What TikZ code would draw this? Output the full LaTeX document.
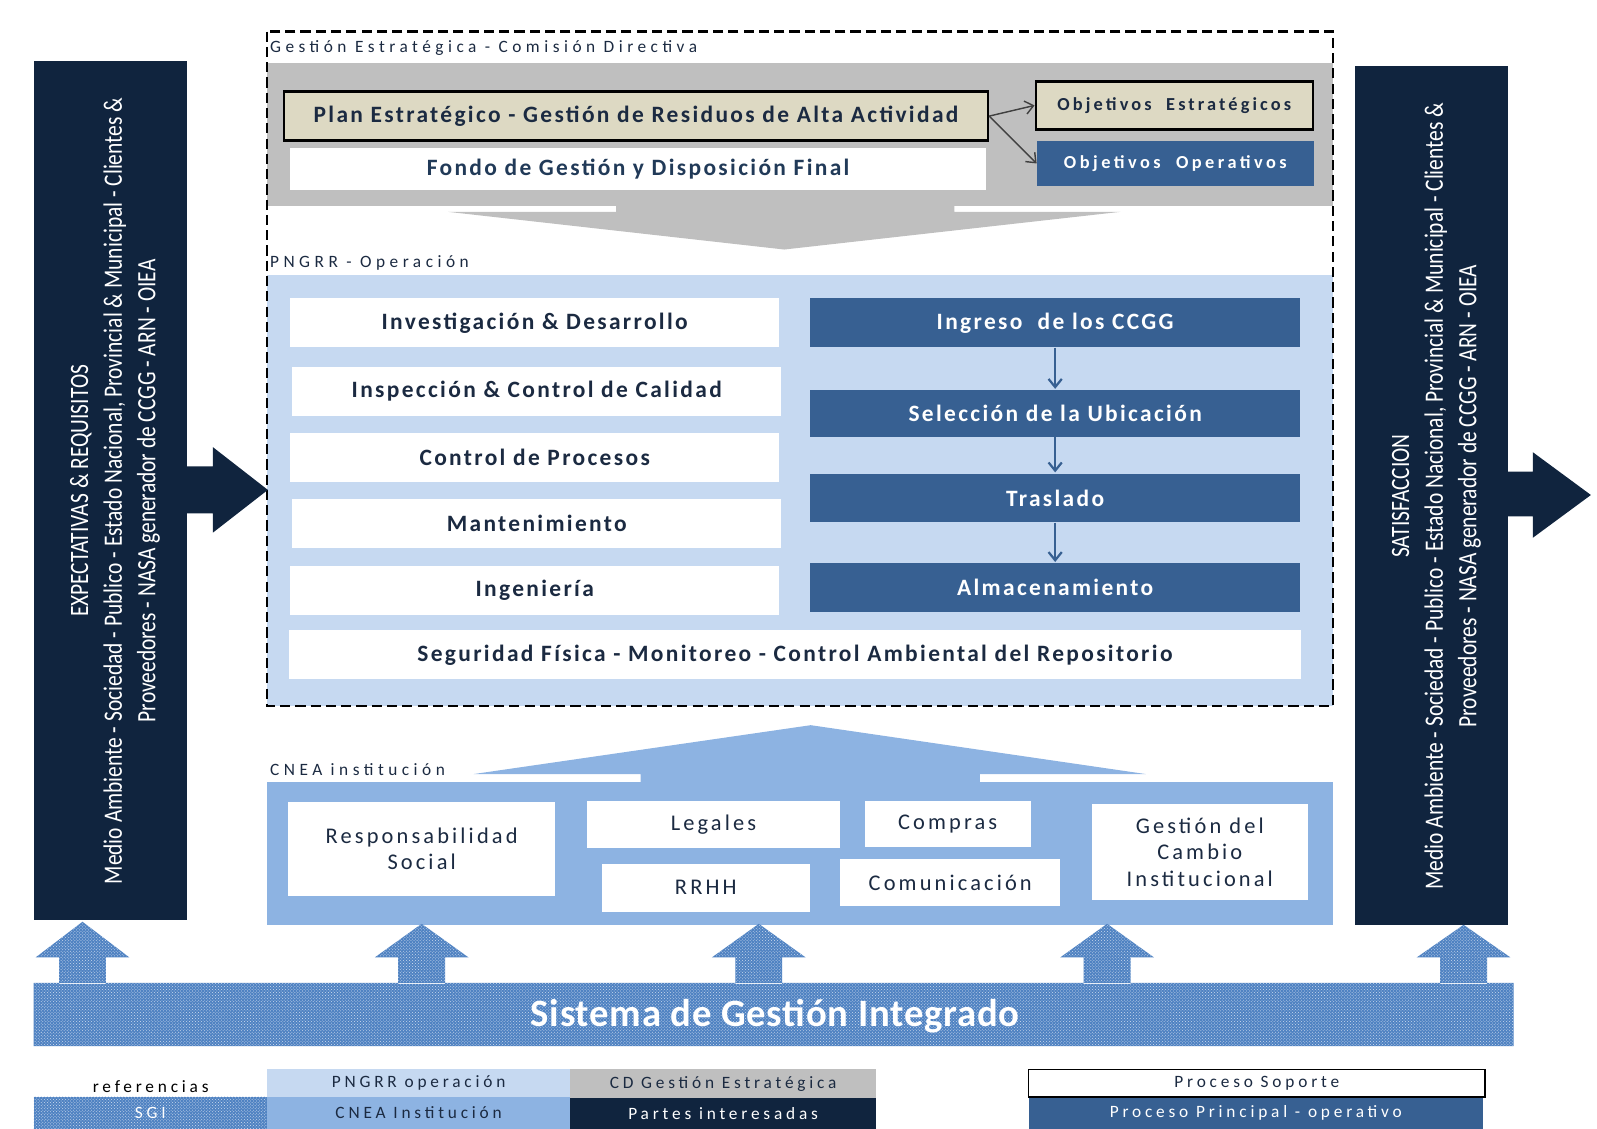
\documentclass[tikz,border=0pt]{standalone}
\usepackage{fontspec}
\setmainfont{Carlito}
\usetikzlibrary{patterns,arrows.meta}

\definecolor{navy}{HTML}{10243E}
\definecolor{grayband}{HTML}{BFBFBF}
\definecolor{beige}{HTML}{DDD9C3}
\definecolor{procblue}{HTML}{376092}
\definecolor{pngrrblue}{HTML}{C6D9F1}
\definecolor{cneablue}{HTML}{8DB3E2}
\definecolor{sgiblue}{HTML}{4F82C2}
\definecolor{boxtext}{HTML}{1B2A41}

\begin{document}
\begin{tikzpicture}[x=1pt, y=-1pt, inner sep=0pt, >={Straight Barb[length=8pt, width=13pt]},
                        whitebox/.style={rectangle, fill=white, text=boxtext, font=\bfseries\fontsize{23}{27}\selectfont\addfontfeature{LetterSpace=10}},
                        procbox/.style={rectangle, fill=procblue, text=white, font=\bfseries\fontsize{23}{27}\selectfont\addfontfeature{LetterSpace=10}},
                        beigebox/.style={rectangle, fill=beige, draw=black, line width=2.5pt, text=boxtext},
                        cneabox/.style={rectangle, fill=white, text=boxtext, align=center, font=\fontsize{22}{26}\selectfont\addfontfeature{LetterSpace=14}},
                        seclabel/.style={anchor=west, text=boxtext, font=\fontsize{17}{20}\selectfont\addfontfeature{LetterSpace=26}},
                        navybar/.style={rectangle, fill=navy},
                        bartext/.style={rotate=90, text=white, font=\fontsize{26}{33}\selectfont},
                        legbox/.style={rectangle, text=boxtext, font=\fontsize{17}{20}\selectfont\addfontfeature{LetterSpace=22}},
                        sgi/.style={fill=sgiblue, postaction={pattern=crosshatch dots, pattern color=white!70!sgiblue}},
                        dashborder/.style={draw=black, line width=2.2pt, dash pattern=on 10pt off 5pt},
                        objarrow/.style={->, draw=black!75, line width=1.4pt},
                        procarrow/.style={->, draw=procblue, line width=2.2pt, shorten >=1pt}]

                        \useasboundingbox (0,0) rectangle (1568,1108);

                        % Gestion estrategica area
                        \fill[grayband] (262,62) rectangle (1309,202);
                        \fill[grayband] (605,202) -- (605,208) -- (440,208) -- (770,245) -- (1100,208) -- (937,208) -- (937,202) -- cycle;
                        % PNGRR area
                        \fill[pngrrblue] (262,270) rectangle (1309,693);
                        \draw[dashborder] (262,31) rectangle (1309,693);
                        % CNEA area
                        \fill[cneablue] (262,768) rectangle (1309,908);
                        \fill[cneablue] (629,769) -- (629,760) -- (465,760) -- (796,712) -- (1125,760) -- (962,760) -- (962,769) -- cycle;

                        % Section labels
                        \node[seclabel] (lblgest) at (265,47) {Gestión Estratégica - Comisión Directiva};
                        \node[seclabel] (lblpngrr) at (265,258) {PNGRR - Operación};
                        \node[seclabel] (lblcnea) at (265,756) {CNEA institución};

                        % Strategic plan and objectives
                        \node[beigebox, minimum width=691pt, minimum height=48pt, font=\bfseries\fontsize{23}{27}\selectfont\addfontfeature{LetterSpace=10}] (plan) at (624.5,114) {Plan Estratégico - Gestión de Residuos de Alta Actividad};
                        \node[whitebox, minimum width=683pt, minimum height=42pt, text=procblue!60!black] (fondo) at (626.5,166) {Fondo de Gestión y Disposición Final};
                        \node[beigebox, minimum width=272pt, minimum height=47pt, font=\bfseries\fontsize{18}{21}\selectfont\addfontfeature{LetterSpace=17}] (objest) at (1153,103.5) {Objetivos\ \ Estratégicos};
                        \node[procbox, minimum width=272pt, minimum height=45pt, font=\bfseries\fontsize{18}{21}\selectfont\addfontfeature{LetterSpace=19}] (objop) at (1154,160.5) {Objetivos\ \ Operativos};

                        % Support processes
                        \node[whitebox, minimum width=480pt, minimum height=48pt] (invdes) at (525,317) {Investigación \& Desarrollo};
                        \node[whitebox, minimum width=480pt, minimum height=48pt] (inspec) at (527,384) {Inspección \& Control de Calidad};
                        \node[whitebox, minimum width=480pt, minimum height=48pt] (ctrlproc) at (525,449) {Control de Procesos};
                        \node[whitebox, minimum width=480pt, minimum height=48pt] (mant) at (527,514) {Mantenimiento};
                        \node[whitebox, minimum width=480pt, minimum height=48pt] (ing) at (525,580) {Ingeniería};
                        \node[whitebox, minimum width=993pt, minimum height=48pt] (segur) at (780.5,643) {Seguridad Física - Monitoreo - Control Ambiental del Repositorio};

                        % Main processes
                        \node[procbox, minimum width=481pt, minimum height=48pt] (ingreso) at (1036,317) {Ingreso\ \ de los CCGG};
                        \node[procbox, minimum width=481pt, minimum height=46pt] (selec) at (1036,406) {Selección de la Ubicación};
                        \node[procbox, minimum width=481pt, minimum height=48pt] (trasl) at (1036,489) {Traslado};
                        \node[procbox, minimum width=481pt, minimum height=48pt] (almac) at (1036,577) {Almacenamiento};

                        % CNEA institution
                        \node[cneabox, minimum width=262pt, minimum height=93pt] (respsoc) at (414,833.5) {Responsabilidad\\Social};
                        \node[cneabox, minimum width=249pt, minimum height=47pt] (legales) at (700.5,809.5) {Legales};
                        \node[cneabox, minimum width=204pt, minimum height=47pt] (rrhh) at (693,871.5) {RRHH};
                        \node[cneabox, minimum width=163pt, minimum height=46pt] (compras) at (930.5,809) {Compras};
                        \node[cneabox, minimum width=216pt, minimum height=47pt] (comunic) at (933,866.5) {Comunicación};
                        \node[cneabox, minimum width=212pt, minimum height=95pt] (gestcambio) at (1178,836.5) {Gestión del\\Cambio\\Institucional};

                        % Interested parties
                        \node[navybar, minimum width=151pt, minimum height=843pt] (expbar) at (108.5,481.5) {};
                        \node[bartext] (exptext) at (113,482) {\scalebox{.81}[1]{\begin{tabular}{@{}c@{}}EXPECTATIVAS \& REQUISITOS\\Medio Ambiente - Sociedad - Publico - Estado Nacional, Provincial \& Municipal - Clientes \&\\Proveedores - NASA generador de CCGG - ARN - OIEA\end{tabular}}};
                        \node[navybar, minimum width=151pt, minimum height=843pt] (satbar) at (1405.5,486.5) {};
                        \node[bartext] (sattext) at (1410,487) {\scalebox{.81}[1]{\begin{tabular}{@{}c@{}}SATISFACCION\\Medio Ambiente - Sociedad - Publico - Estado Nacional, Provincial \& Municipal - Clientes \&\\Proveedores - NASA generador de CCGG - ARN - OIEA\end{tabular}}};
                        \fill[navy] (182,458) -- (209,458) -- (209,439) -- (263,481) -- (209,523) -- (209,504) -- (182,504) -- cycle;
                        \fill[navy] (1479,463) -- (1505,463) -- (1505,444) -- (1562,486) -- (1505,528) -- (1505,507) -- (1479,507) -- cycle;

                        % Integrated management system
                        \fill[sgi] (33,965) rectangle (1486,1027)
                            (58,966) -- (58,940) -- (35,940) -- (81,905) -- (127,940) -- (104,940) -- (104,966) -- cycle
                            (391,966) -- (391,940) -- (368,940) -- (414,907) -- (460,940) -- (437,940) -- (437,966) -- cycle
                            (722,966) -- (722,940) -- (699,940) -- (745,907) -- (791,940) -- (768,940) -- (768,966) -- cycle
                            (1064,966) -- (1064,940) -- (1041,940) -- (1087,907) -- (1133,940) -- (1110,940) -- (1110,966) -- cycle
                            (1414,966) -- (1414,940) -- (1391,940) -- (1437,908) -- (1483,940) -- (1460,940) -- (1460,966) -- cycle;
                        \node[text=white, font=\bfseries\fontsize{38}{42}\selectfont\addfontfeature{LetterSpace=2}] (sgitext) at (761,998) {Sistema de Gestión Integrado};

                        % Legend
                        \node[legbox, text=black] (refs) at (148,1067) {referencias};
                        \node[legbox, sgi, text=white, minimum width=229pt, minimum height=31pt] (legsgi) at (147.5,1092.5) {SGI};
                        \node[legbox, fill=pngrrblue, minimum width=298pt, minimum height=27pt] (legpngrr) at (411,1063.5) {PNGRR operación};
                        \node[legbox, fill=cneablue, minimum width=298pt, minimum height=31pt] (legcnea) at (411,1092.5) {CNEA Institución};
                        \node[legbox, fill=grayband, minimum width=300pt, minimum height=28pt] (legcd) at (710,1064) {CD Gestión Estratégica};
                        \node[legbox, fill=navy, text=white, minimum width=300pt, minimum height=30pt] (legpartes) at (710,1093) {Partes interesadas};
                        \node[legbox, fill=white, draw=black, line width=1.5pt, minimum width=448pt, minimum height=27pt] (legsoporte) at (1234,1063.5) {Proceso Soporte};
                        \node[legbox, fill=procblue, text=white, minimum width=446pt, minimum height=30pt] (legprincipal) at (1233,1093) {Proceso Principal - operativo};

                        % Connectors
                        \draw[objarrow] (plan.east) -- (objest.west);
                        \draw[objarrow] (plan.east) -- (objop.west);
                        \draw[procarrow] (ingreso.south) -- (selec.north);
                        \draw[procarrow] (selec.south) -- (trasl.north);
                        \draw[procarrow] (trasl.south) -- (almac.north);
\end{tikzpicture}
\end{document}
